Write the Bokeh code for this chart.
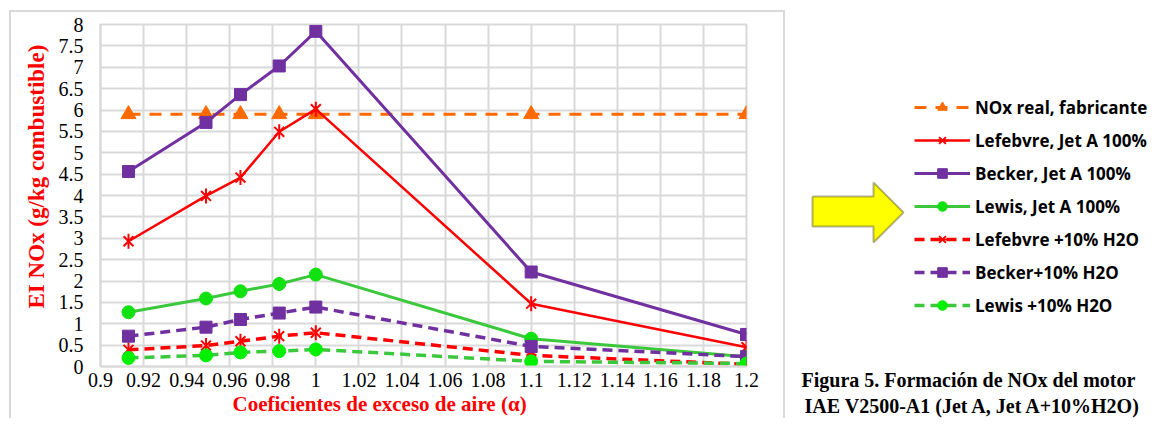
import math
from bokeh.plotting import figure
from bokeh.layouts import row
from bokeh.models import (Range1d, FixedTicker, Legend, LegendItem,
                          PolyAnnotation, Title)
from bokeh.embed import file_html
from bokeh.resources import INLINE

# ---- data ----
alpha = [0.913, 0.949, 0.965, 0.983, 1.0, 1.1, 1.2]
nox_real = [5.9, 5.9, 5.9, 5.9, 5.9, 5.9, 5.9]
lefebvre = [2.93, 3.99, 4.42, 5.49, 6.02, 1.47, 0.45]
becker = [4.56, 5.71, 6.36, 7.03, 7.84, 2.21, 0.75]
lewis = [1.27, 1.59, 1.76, 1.93, 2.15, 0.65, 0.23]
lefebvre_h2o = [0.39, 0.49, 0.59, 0.71, 0.79, 0.26, 0.05]
becker_h2o = [0.71, 0.92, 1.10, 1.25, 1.39, 0.47, 0.23]
lewis_h2o = [0.20, 0.26, 0.33, 0.36, 0.40, 0.12, 0.07]

x_ticks = [0.9, 0.92, 0.94, 0.96, 0.98, 1.0, 1.02, 1.04, 1.06, 1.08, 1.1,
           1.12, 1.14, 1.16, 1.18, 1.2]
x_tick_labels = ["0.9", "0.92", "0.94", "0.96", "0.98", "1", "1.02", "1.04",
                 "1.06", "1.08", "1.1", "1.12", "1.14", "1.16", "1.18", "1.2"]
y_ticks = [0, 0.5, 1, 1.5, 2, 2.5, 3, 3.5, 4, 4.5, 5, 5.5, 6, 6.5, 7, 7.5, 8]
y_tick_labels = ["0", "0.5", "1", "1.5", "2", "2.5", "3", "3.5", "4", "4.5",
                 "5", "5.5", "6", "6.5", "7", "7.5", "8"]

series_names = ["NOx real, fabricante", "Lefebvre, Jet A 100%",
                "Becker, Jet A 100%", "Lewis, Jet A 100%",
                "Lefebvre +10% H2O", "Becker+10% H2O", "Lewis +10% H2O"]

x_title = "Coeficientes de exceso de aire (α)"
y_title = "EI NOx (g/kg combustible)"
caption1 = "Figura 5. Formación de NOx del motor"
caption2 = "IAE V2500-A1 (Jet A, Jet A+10%H2O)"

ORANGE = "#ff6a00"
RED = "#ff0000"
PURPLE = "#7030a0"
GREEN = "#3cc83c"
GREEN_M = "#11e011"
GREEN_M2 = "#00f000"
BORDER = "#d9d9d9"
SERIF = "Liberation Serif"


def add_series(fig):
    """Draw the seven series on fig; return legend items."""
    def star(y, color):
        r1 = fig.scatter(alpha, y, marker="x", size=14, line_color=color,
                         line_width=2)
        r2 = fig.scatter(alpha, y, marker="dash", size=15, angle=math.pi / 2,
                         line_color=color, line_width=2)
        return [r1, r2]

    dash = "10 6"
    out = []
    l = fig.line(alpha, nox_real, line_color=ORANGE, line_width=3, line_dash="12 9")
    m = fig.scatter(alpha, nox_real, marker="triangle", size=15,
                    fill_color=ORANGE, line_color=ORANGE)
    out.append([l, m])
    l = fig.line(alpha, lefebvre, line_color=RED, line_width=2.5)
    out.append([l] + star(lefebvre, RED))
    l = fig.line(alpha, becker, line_color=PURPLE, line_width=3)
    m = fig.scatter(alpha, becker, marker="square", size=12, fill_color=PURPLE,
                    line_color=PURPLE)
    out.append([l, m])
    l = fig.line(alpha, lewis, line_color=GREEN, line_width=3)
    m = fig.scatter(alpha, lewis, marker="circle", size=13, fill_color=GREEN_M,
                    line_color=GREEN_M)
    out.append([l, m])
    l = fig.line(alpha, lefebvre_h2o, line_color=RED, line_width=3.5, line_dash=dash)
    out.append([l] + star(lefebvre_h2o, RED))
    l = fig.line(alpha, becker_h2o, line_color=PURPLE, line_width=3.5, line_dash=dash)
    m = fig.scatter(alpha, becker_h2o, marker="square", size=12,
                    fill_color=PURPLE, line_color=PURPLE)
    out.append([l, m])
    l = fig.line(alpha, lewis_h2o, line_color=GREEN, line_width=3.5, line_dash=dash)
    m = fig.scatter(alpha, lewis_h2o, marker="circle", size=13,
                    fill_color=GREEN_M2, line_color=GREEN_M2)
    out.append([l, m])
    return [LegendItem(label=n, renderers=r) for n, r in zip(series_names, out)]


# ---------------- chart ----------------
p = figure(width=783, height=418, output_backend="svg", toolbar_location=None,
           title=None, x_range=Range1d(0.9, 1.2), y_range=Range1d(0, 8),
           min_border_left=100, min_border_right=37, min_border_top=24,
           min_border_bottom=51)
p.background_fill_color = "white"
p.border_fill_alpha = 0
p.outline_line_color = BORDER
p.outline_line_width = 2
p.styles = {
    "background-color": "white",
    "background-image": f"linear-gradient({BORDER}, {BORDER}), "
                        f"linear-gradient({BORDER}, {BORDER})",
    "background-size": "2px 100%, 100% 2px",
    "background-position": "9px 10px, 9px 10px",
    "background-repeat": "no-repeat",
}

for ax in (p.xaxis[0], p.yaxis[0]):
    ax.major_tick_line_color = None
    ax.minor_tick_line_color = None
    ax.major_tick_out = 0
    ax.major_tick_in = 0
    ax.axis_line_color = BORDER
    ax.axis_line_width = 2
    ax.major_label_text_font = SERIF
    ax.major_label_text_font_size = "20px"
    ax.major_label_text_color = "black"

p.xaxis[0].ticker = FixedTicker(ticks=x_ticks)
p.xaxis[0].major_label_overrides = dict(zip(x_ticks, x_tick_labels))
p.xaxis[0].major_label_standoff = 6
p.yaxis[0].ticker = FixedTicker(ticks=y_ticks)
p.yaxis[0].major_label_overrides = dict(zip(y_ticks, y_tick_labels))
p.yaxis[0].major_label_standoff = 17

p.xgrid[0].ticker = FixedTicker(ticks=x_ticks)
p.ygrid[0].ticker = FixedTicker(ticks=y_ticks)
for g in (p.xgrid[0], p.ygrid[0]):
    g.grid_line_color = BORDER
    g.grid_line_width = 2

add_series(p)

p.add_layout(Title(text=x_title, align="left", offset=132, standoff=0,
                   text_font=SERIF, text_font_style="bold",
                   text_font_size="21px", text_color=RED), "below")
p.add_layout(Title(text=y_title, align="left", offset=58, standoff=14,
                   text_font=SERIF, text_font_style="bold",
                   text_font_size="23px", text_color=RED), "left")

# ---------------- legend / arrow / caption panel ----------------
q = figure(width=371, height=418, output_backend="svg", toolbar_location=None,
           title=None, x_axis_type=None, y_axis_type=None,
           x_range=Range1d(2, 3), y_range=Range1d(0, 1),
           min_border_left=0, min_border_right=0, min_border_top=24,
           min_border_bottom=51)
q.grid.visible = False
q.outline_line_color = None
q.background_fill_alpha = 0
q.border_fill_alpha = 0
q.styles = {
    "background-color": "white",
    "background-image": f"linear-gradient({BORDER}, {BORDER})",
    "background-size": "2px 100%",
    "background-position": "0px 10px",
    "background-repeat": "no-repeat",
}

items = add_series(q)  # same series, outside q's visible range: legend only
legend = Legend(items=items, location=(131, 49), glyph_width=56, glyph_height=24,
                label_height=24, spacing=9, label_standoff=5, padding=2,
                margin=0, border_line_color=None, background_fill_alpha=0,
                label_text_font="Open Sans", label_text_font_style="bold",
                label_text_font_size="17px", label_text_color="black")
q.add_layout(legend, "center")

q.add_layout(PolyAnnotation(xs=[29, 90, 90, 120, 90, 90, 29],
                            ys=[170, 170, 184, 154, 124, 140, 140],
                            xs_units="screen", ys_units="screen",
                            fill_color="#ffff00", fill_alpha=1,
                            line_color="black", line_width=2))

q.add_layout(Title(text=caption1, align="left", offset=18, standoff=0,
                   text_font=SERIF, text_font_style="bold",
                   text_font_size="20px", text_color="black"), "below")
q.add_layout(Title(text=caption2, align="left", offset=21, standoff=4,
                   text_font=SERIF, text_font_style="bold",
                   text_font_size="20px", text_color="black"), "below")

layout = row(p, q)
open("out.html", "w").write(file_html(layout, INLINE))
